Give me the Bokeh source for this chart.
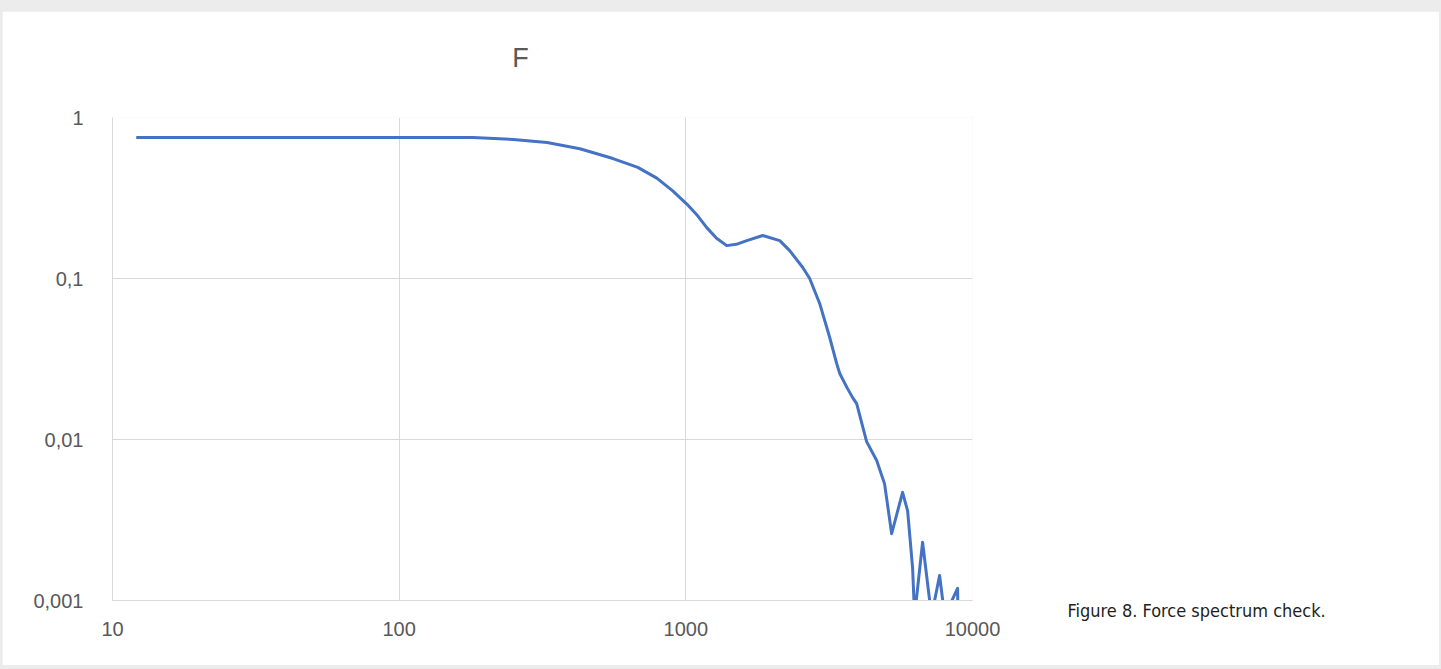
from bokeh.plotting import figure
from bokeh.models import Range1d, FixedTicker, CustomJSTickFormatter, Label
from bokeh.layouts import column
from bokeh.embed import file_html
from bokeh.resources import INLINE

# ---- data ----
freq = [12.1, 20, 50, 100, 181, 250, 328, 427, 557, 680, 792, 900, 1008, 1100, 1183, 1280, 1389, 1500, 1632,
        1855, 2126, 2303, 2558, 2704, 2930, 3176, 3358, 3443, 3650, 3818, 3944, 4272,
        4632, 4935, 5224, 5703, 5939, 6180, 6280, 6697, 7196, 7677, 8000, 8870, 8900]
amp = [0.75, 0.75, 0.75, 0.75, 0.75, 0.73, 0.70, 0.64, 0.556, 0.49, 0.42, 0.35, 0.29, 0.245, 0.207, 0.178, 0.16, 0.163, 0.172,
       0.185, 0.172, 0.149, 0.117, 0.10, 0.070, 0.043, 0.0297, 0.0257, 0.021, 0.0182, 0.0167, 0.0097,
       0.0074, 0.0053, 0.0026, 0.0047, 0.0036, 0.0016, 0.0008, 0.0023, 0.0008, 0.00143, 0.0008, 0.00119, 0.0008]
x_ticks = [10, 100, 1000, 10000]
y_ticks = [0.001, 0.01, 0.1, 1]
title_text = "F"
caption_text = "Figure 8. Force spectrum check."

p = figure(width=1437, height=654, x_axis_type="log", y_axis_type="log",
           x_range=Range1d(10, 10000), y_range=Range1d(0.001, 1),
           output_backend="svg", toolbar_location=None, title=None,
           min_border_left=110, min_border_right=467,
           min_border_top=106, min_border_bottom=65)
p.outline_line_color = None
p.background_fill_color = "white"
p.border_fill_color = "white"

fmt = CustomJSTickFormatter(code="return String(tick).replace('.', ',');")
for ax, ticks in ((p.xaxis[0], x_ticks), (p.yaxis[0], y_ticks)):
    ax.ticker = FixedTicker(ticks=ticks, minor_ticks=[])
    ax.formatter = fmt
    ax.axis_line_color = "#d9d9d9"
    ax.major_tick_line_color = None
    ax.minor_tick_line_color = None
    ax.major_label_text_font = "Liberation Sans"
    ax.major_label_text_font_size = "20px"
    ax.major_label_text_color = "#595959"
p.yaxis[0].major_label_standoff = 23
p.xaxis[0].major_label_standoff = 15

p.xgrid[0].ticker = FixedTicker(ticks=x_ticks)
p.ygrid[0].ticker = FixedTicker(ticks=y_ticks)
for g in (p.xgrid[0], p.ygrid[0]):
    g.grid_line_color = "#d9d9d9"
    g.grid_line_width = 1
    g.minor_grid_line_color = None

p.line(freq, amp, line_color="#4472C4", line_width=3, line_join="round")

title_label = Label(x=408, y=60, x_units="screen", y_units="screen", text=title_text,
                    text_font="Liberation Sans", text_font_size="27px", text_color="#595959",
                    text_align="center", text_baseline="middle")
p.add_layout(title_label, "above")

caption = Label(x=95, y=-10, x_units="screen", y_units="screen", text=caption_text,
                text_font="DejaVu Sans Condensed, Liberation Sans", text_font_size="18px",
                text_color="#231f20", text_align="left", text_baseline="alphabetic")
p.add_layout(caption, "right")

layout = column(p, styles={"background-color": "#ebeceb", "padding": "11px 2px 4px 2px"})
open("out.html", "w").write(file_html(layout, INLINE))
